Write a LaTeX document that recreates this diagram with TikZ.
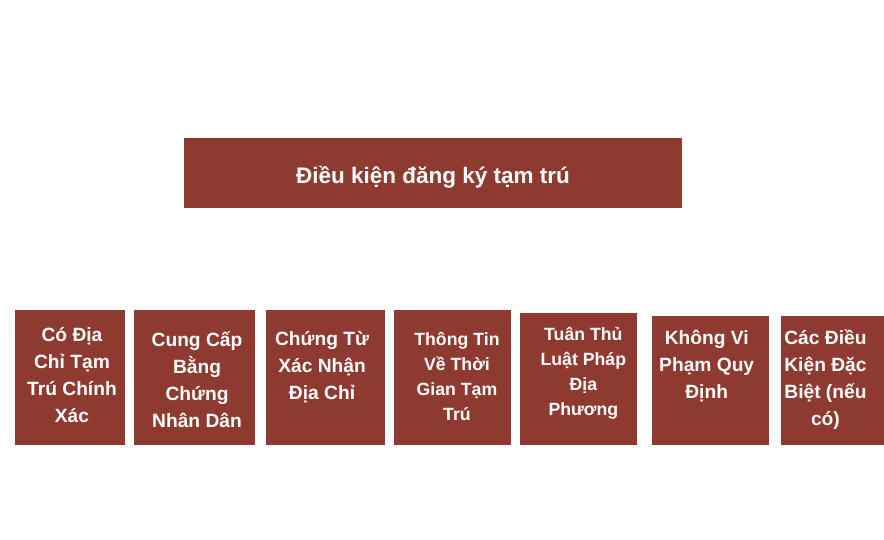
\documentclass[tikz,border=0pt]{standalone}
\usepackage{fontspec}
\setmainfont{Liberation Sans}
\usepackage{xcolor}
\usepackage{tikz}
\usetikzlibrary{positioning}

\definecolor{boxred}{RGB}{143,58,48}

\begin{document}
\begin{tikzpicture}[x=1pt, y=-1pt,
    box/.style={rectangle, fill=boxred, inner sep=0pt, outer sep=0pt},
    lbl/.style={text=white, align=center, inner sep=0pt, font=\bfseries\fontsize{19.2}{27}\selectfont},
    lblsmall/.style={lbl, font=\bfseries\fontsize{17.7}{25}\selectfont}]
        \useasboundingbox (0,0) rectangle (884,540);
        \node[box, minimum width=498pt, minimum height=70pt, text=white, font=\bfseries\fontsize{22.5}{27}\selectfont, text height=21pt, text depth=0pt] (T) at (433,173) {Điều kiện đăng ký tạm trú};
        % bottom row
        \node[box, minimum width=110pt, minimum height=134.4pt, anchor=south west] (A) at (15,444.7) {};
        \node[box, minimum width=121pt, minimum height=134.4pt] (B) [right=9pt of A.south east, anchor=south west] {};
        \node[box, minimum width=119.3pt, minimum height=134.7pt] (C) [right=10.7pt of B.south east, anchor=south west] {};
        \node[box, minimum width=116.7pt, minimum height=134.4pt] (D) [right=9.3pt of C.south east, anchor=south west] {};
        \node[box, minimum width=116.7pt, minimum height=131.4pt] (E) [right=9.3pt of D.south east, anchor=south west] {};
        \node[box, minimum width=117pt, minimum height=129pt] (F) [right=15pt of E.south east, anchor=south west] {};
        \node[box, minimum width=103.3pt, minimum height=129pt] (G) [right=11.7pt of F.south east, anchor=south west] {};
        % labels, placed by the baseline of their last line
        \node[lbl, below=111.9pt of A.north, anchor=base, xshift=2pt] (a) {Có Địa\\Chỉ Tạm\\Trú Chính\\Xác};
        \node[lbl, below=117.6pt of B.north, anchor=base, xshift=2.5pt] (b) {Cung Cấp\\Bằng\\Chứng\\Nhân Dân};
        \node[lbl, below=89.9pt of C.north, anchor=base, xshift=-3.3pt] (c) {Chứng Từ\\Xác Nhận\\Địa Chỉ};
        \node[lblsmall, below=110pt of D.north, anchor=base, xshift=4.3pt] (d) {Thông Tin\\Về Thời\\Gian Tạm\\Trú};
        \node[lblsmall, below=102pt of E.north, anchor=base, xshift=4.7pt] (e) {Tuân Thủ\\Luật Pháp\\Địa\\Phương};
        \node[lbl, below=82.9pt of F.north, anchor=base, xshift=-3.8pt] (f) {Không Vi\\Phạm Quy\\Định};
        \node[lbl, below=109.9pt of G.north, anchor=base, xshift=-6.9pt] (g) {Các Điều\\Kiện Đặc\\Biệt (nếu\\có)};
    \end{tikzpicture}
\end{document}
